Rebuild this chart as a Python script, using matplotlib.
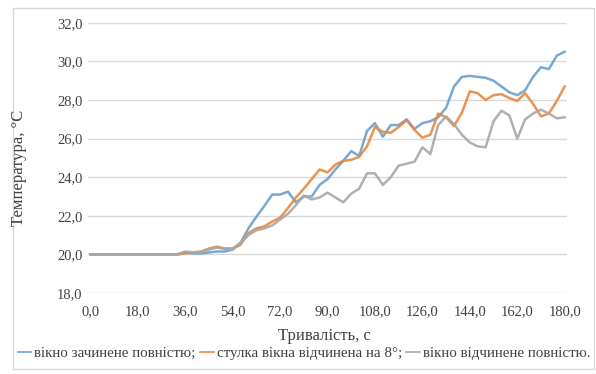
import matplotlib.pyplot as plt
from matplotlib.lines import Line2D
from matplotlib.patches import Rectangle
import numpy as np

plt.rcParams['font.family'] = ['Liberation Serif', 'DejaVu Serif']

# time, s (3 s step)
time_s = np.arange(0, 181, 3)

# window fully closed
closed = [20.0, 20.0, 20.0, 20.0, 20.0, 20.0, 20.0, 20.0, 20.0, 20.0,
          20.0, 20.0, 20.1, 20.05, 20.05, 20.1, 20.15, 20.15, 20.25, 20.6,
          21.35, 21.95, 22.5, 23.1, 23.1, 23.25, 22.7, 23.0, 23.0, 23.6,
          23.9, 24.4, 24.85, 25.35, 25.1, 26.4, 26.8, 26.1, 26.7, 26.7,
          27.0, 26.5, 26.8, 26.9, 27.1, 27.6, 28.7, 29.2, 29.25, 29.2,
          29.15, 29.0, 28.7, 28.4, 28.25, 28.5, 29.2, 29.7, 29.6, 30.3,
          30.5]

# sash opened by 8 degrees
sash_8 = [20.0, 20.0, 20.0, 20.0, 20.0, 20.0, 20.0, 20.0, 20.0, 20.0,
          20.0, 20.0, 20.05, 20.1, 20.15, 20.3, 20.4, 20.3, 20.3, 20.5,
          21.1, 21.35, 21.45, 21.7, 21.9, 22.4, 22.95, 23.4, 23.9, 24.4,
          24.25, 24.65, 24.85, 24.9, 25.05, 25.6, 26.6, 26.35, 26.3, 26.6,
          26.95, 26.45, 26.05, 26.2, 27.3, 27.1, 26.65, 27.35, 28.45, 28.35,
          28.0, 28.25, 28.3, 28.1, 27.95, 28.35, 27.8, 27.15, 27.3, 27.95,
          28.7]

# window fully open
opened = [20.0, 20.0, 20.0, 20.0, 20.0, 20.0, 20.0, 20.0, 20.0, 20.0,
          20.0, 20.0, 20.15, 20.1, 20.1, 20.25, 20.35, 20.3, 20.3, 20.6,
          21.0, 21.25, 21.35, 21.5, 21.8, 22.1, 22.55, 23.05, 22.85, 22.95,
          23.2, 22.95, 22.7, 23.15, 23.4, 24.2, 24.2, 23.6, 24.0, 24.6,
          24.7, 24.8, 25.55, 25.2, 26.7, 27.15, 26.75, 26.2, 25.8, 25.6,
          25.55, 26.9, 27.45, 27.2, 26.0, 27.0, 27.3, 27.5, 27.3, 27.05,
          27.1]

labels = ['вікно зачинене повністю;', 'стулка вікна відчинена на 8°;',
          'вікно відчинене повністю.']
colors = ['#6a9fcf', '#e8873f', '#a8a8a8']

x_ticks = np.arange(0, 181, 18)
y_ticks = np.arange(18, 33, 2)

fig = plt.figure(figsize=(5.96, 3.74), dpi=100)
ax = fig.add_axes([0.148, 0.2166, 0.803, 0.7224])

for series, color in zip([closed, sash_8, opened], colors):
    ax.plot(time_s, series, color=color, lw=1.8, alpha=0.9,
            solid_joinstyle='round')

ax.set_xlim(-0.8, 180.8)
ax.set_ylim(18, 32)
ax.set_xticks(x_ticks)
ax.set_yticks(y_ticks)
ax.set_xticklabels([f'{v:.1f}'.replace('.', ',') for v in x_ticks])
ax.set_yticklabels([f'{v:.1f}'.replace('.', ',') for v in y_ticks])
ax.tick_params(length=0, labelsize=10.5, colors='#404040')
ax.tick_params(axis='x', pad=9)
ax.tick_params(axis='y', pad=4)
ax.grid(axis='y', color='#d9d9d9', lw=1.0)
ax.set_axisbelow(True)
for s in ax.spines.values():
    s.set_visible(False)

fig.text(0.032, 0.55, 'Температура, °C', rotation=90, ha='center',
         va='center', fontsize=12, color='#404040')
fig.text(0.545, 0.102, 'Тривалість, с', ha='center', va='center',
         fontsize=12, color='#404040')

handles = [Line2D([], [], color=c, lw=1.2) for c in colors]
fig.legend(handles, labels, loc='center', bbox_to_anchor=(0.51, 0.056),
           ncol=3, frameon=False, fontsize=10.8, handlelength=0.9,
           handletextpad=0.2, columnspacing=0.3, labelcolor='#404040')

fig.patches.append(Rectangle((0.021, 0.013), 0.976, 0.966,
                             transform=fig.transFigure, fill=False,
                             edgecolor='#d9d9d9', lw=1.0))

fig.savefig('out.png', dpi=100)
